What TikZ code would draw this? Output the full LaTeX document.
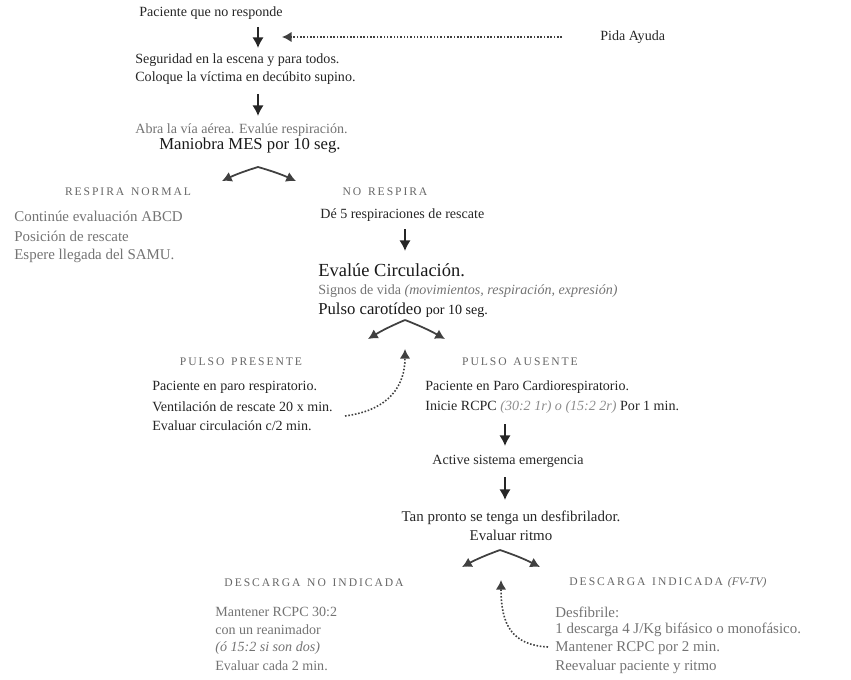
\documentclass[tikz,border=0pt]{standalone}
\usepackage{fontspec}
\setmainfont{Liberation Serif}
\usetikzlibrary{arrows.meta}
\begin{document}
\begin{tikzpicture}[x=0.02cm, y=-0.02cm,
  txt/.style={anchor=west, inner sep=0pt, font=\fontsize{8}{10}\selectfont, text=black!85},
  suave/.style={txt, text=black!55},
  grande/.style={txt, font=\fontsize{9.5}{11}\selectfont, text=black!90},
  rotulo/.style={inner sep=0pt, font=\fontsize{6.6}{8}\selectfont, text=black!60},
  flecha/.style={-{Latex[length=6pt,width=6.5pt]}, line width=1.5pt, black!85},
  rama/.style={-{Latex[length=5.5pt,width=6pt]}, line width=1pt, black!75},
  retorno/.style={-{Latex[length=5.5pt,width=6pt]}, densely dotted, line width=0.9pt, black!75}]
\useasboundingbox (0,0) rectangle (851,679);
\node[txt, anchor=center] (paciente) at (211,13) {Paciente que no responde};
\node[txt] (ayuda) at (600,37) {Pida Ayuda};
\coordinate (ayudaini) at (562,37);
\coordinate (ayudafin) at (282,37);
\draw[retorno] (ayudaini) -- (ayudafin);
\coordinate (a1) at (258,27); \coordinate (b1) at (258,48);
\draw[flecha] (a1) -- (b1);
\node[txt] (seg1) at (135,60) {Seguridad en la escena y para todos.};
\node[txt] (seg2) at (135,78) {Coloque la víctima en decúbito supino.};
\coordinate (a2) at (258,94); \coordinate (b2) at (258,116);
\draw[flecha] (a2) -- (b2);
\node[suave] (abra) at (135,130) {Abra la vía aérea. Evalúe respiración.};
\node[grande, anchor=center] (mes) at (250,146) {Maniobra MES por 10 seg.};
\coordinate (f1) at (258,167); \coordinate (f1i) at (222,181); \coordinate (f1d) at (296,181);
\draw[rama] (f1) to[bend right=4] (f1i);
\draw[rama] (f1) to[bend left=4] (f1d);
\node[rotulo] (respira) at (128,192) {R\,E\,S\,P\,I\,R\,A\, \,N\,O\,R\,M\,A\,L};
\node[rotulo] (norespira) at (385,192) {N\,O\, \,R\,E\,S\,P\,I\,R\,A};
\foreach \y/\l [count=\i] in {216/Continúe evaluación ABCD, 236/Posición de rescate, 256/Espere llegada del SAMU.}
  \node[suave, font=\fontsize{8.5}{10}\selectfont] (normal\i) at (14,\y) {\l};
\node[txt] (rescate) at (320,215) {Dé 5 respiraciones de rescate};
\coordinate (a3) at (405,229); \coordinate (b3) at (405,251);
\draw[flecha] (a3) -- (b3);
\node[grande, font=\fontsize{10.5}{12}\selectfont] (circ) at (318,270) {Evalúe Circulación.};
\node[suave] (signos) at (318,291) {Signos de vida \textit{(movimientos, respiración, expresión)}};
\node[grande] (pulso) at (318,310) {Pulso carotídeo {\fontsize{8}{10}\selectfont por 10 seg.}};
\coordinate (f2) at (405,320); \coordinate (f2i) at (368,339); \coordinate (f2d) at (445,339);
\draw[rama] (f2) to[bend right=4] (f2i);
\draw[rama] (f2) to[bend left=4] (f2d);
\node[rotulo] (presente) at (241,362) {P\,U\,L\,S\,O\, \,P\,R\,E\,S\,E\,N\,T\,E};
\node[rotulo] (ausente) at (520,362) {P\,U\,L\,S\,O\, \,A\,U\,S\,E\,N\,T\,E};
\foreach \y/\l [count=\i] in {387/Paciente en paro respiratorio., 407/Ventilación de rescate 20 x min., 426/{Evaluar circulación c/2 min.}}
  \node[txt] (pres\i) at (152,\y) {\l};
\coordinate (v1) at (345,416); \coordinate (v1f) at (405,349);
\draw[retorno] (v1) .. controls (390,410) and (405,385) .. (v1f);
\node[txt] (aus1) at (425,387) {Paciente en Paro Cardiorespiratorio.};
\node[txt] (aus2) at (425,407) {Inicie RCPC \textcolor{black!45}{\textit{(30:2 1r) o (15:2 2r)}} Por 1 min.};
\coordinate (a4) at (505,424); \coordinate (b4) at (505,446);
\draw[flecha] (a4) -- (b4);
\node[txt, anchor=center] (activa) at (508,461) {Active sistema emergencia};
\coordinate (a5) at (505,477); \coordinate (b5) at (505,500);
\draw[flecha] (a5) -- (b5);
\node[txt, anchor=center, font=\fontsize{8.5}{10}\selectfont] (desf) at (511,518) {Tan pronto se tenga un desfibrilador.};
\node[txt, anchor=center, font=\fontsize{8.5}{10}\selectfont] (ritmo) at (511,535) {Evaluar ritmo};
\coordinate (f3) at (500,550); \coordinate (f3i) at (462,567); \coordinate (f3d) at (540,567);
\draw[rama] (f3) to[bend right=4] (f3i);
\draw[rama] (f3) to[bend left=4] (f3d);
\node[rotulo] (noind) at (314,583) {D\,E\,S\,C\,A\,R\,G\,A\, \,N\,O\, \,I\,N\,D\,I\,C\,A\,D\,A};
\node[rotulo] (ind) at (668,583) {D\,E\,S\,C\,A\,R\,G\,A\, \,I\,N\,D\,I\,C\,A\,D\,A\, \textit{(FV-TV)}};
\foreach \y/\l [count=\i] in {612/Mantener RCPC 30:2, 630/con un reanimador, 648/\textit{(ó 15:2 si son dos)}, 666/Evaluar cada 2 min.}
  \node[suave] (noind\i) at (215,\y) {\l};
\foreach \y/\l [count=\i] in {612/Desfibrile:, 630/{1 descarga 4 J/Kg bifásico o monofásico.}, 648/Mantener RCPC por 2 min., 667/Reevaluar paciente y ritmo}
  \node[suave, font=\fontsize{8.5}{10}\selectfont] (ind\i) at (555,\y) {\l};
\coordinate (v2) at (548,647); \coordinate (v2f) at (501,580);
\draw[retorno] (v2) .. controls (512,645) and (501,625) .. (v2f);
\end{tikzpicture}
\end{document}
